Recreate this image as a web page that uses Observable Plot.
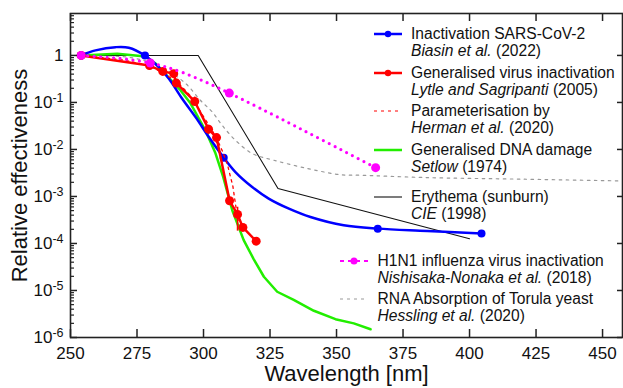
<!DOCTYPE html>
<html><head><meta charset="utf-8">
<script src="https://cdn.jsdelivr.net/npm/d3@7"></script>
<script src="https://cdn.jsdelivr.net/npm/@observablehq/plot@0.6"></script>
<style>
body{margin:0;background:#fff;}
#wrap{position:relative;width:623px;height:388px;font-family:"Liberation Sans",Arial,sans-serif;overflow:hidden;}
.lg{position:absolute;font-size:15.6px;line-height:18px;white-space:nowrap;color:#111;}
.sw{position:absolute;overflow:visible;}
</style></head><body><div id="wrap"></div>
<script>
// ---- tick values ----
const xTicks = [250, 275, 300, 325, 350, 375, 400, 425, 450];
const yMajor = [1e-6, 1e-5, 1e-4, 1e-3, 1e-2, 1e-1, 1];
const yLabels = ["10^-6", "10^-5", "10^-4", "10^-3", "10^-2", "10^-1", "1"];

// ---- series ----
const biasinWl = [254, 278, 307.6, 365.5, 404.5];
const biasinVal = [1, 1, 0.0067, 2.07e-4, 1.63e-4];
const biasinCurveWl = [253.8, 259.4, 266.9, 271.9, 277.9, 283.2, 287, 292, 297, 302, 307.6, 312, 318.3, 324.5, 332.1, 340.2, 352.7, 365.5, 384.1, 404.5];
const biasinCurveVal = [1, 1.28, 1.5, 1.46, 1, 0.564, 0.32, 0.12, 0.0489, 0.0184, 0.0067, 0.00331, 0.00159, 9.0e-4, 5.5e-4, 3.66e-4, 2.44e-4, 2.07e-4, 1.85e-4, 1.63e-4];

const lytleWl = [254, 279.7, 284.7, 288.8, 289.8, 296.7, 301.9, 304.9, 309.8, 312.8, 314.8, 319.8];
const lytleVal = [1, 0.61, 0.457, 0.41, 0.258, 0.105, 0.027, 0.0179, 8.1e-4, 4.15e-4, 2.2e-4, 1.12e-4];
const lytleErrWl = [279.7, 296.7, 301.9, 304.9, 312.8];
const lytleErrLo = [0.48, 0.087, 0.021, 0.0133, 1.83e-4];
const lytleErrHi = [0.78, 0.13, 0.0327, 0.02, 5.9e-4];

const hermanWl = [254, 270, 280, 290, 295, 300, 303, 305, 307, 309, 310, 311, 312, 313];
const hermanVal = [1, 0.8, 0.6, 0.28, 0.14, 0.05, 0.027, 0.017, 0.0095, 0.0048, 0.0028, 0.0017, 0.0007, 0.0003];

const setlowWl = [254, 267.6, 278.2, 282, 291.4, 295.1, 300.7, 304.5, 307.4, 310.8, 315.1, 318.9, 322.7, 327.7, 333.9, 341.5, 349.6, 356.5, 362.8];
const setlowVal = [1, 1.09, 0.95, 0.67, 0.18, 0.096, 0.0256, 0.0083, 0.0026, 5.1e-4, 1.18e-4, 4.6e-5, 1.96e-5, 9.4e-6, 6.3e-6, 3.7e-6, 2.45e-6, 2.0e-6, 1.5e-6];

const cieWl = [254, 298, 328, 400];
const cieVal = [1, 1, 0.00148, 1.26e-4];

const nishiWl = [254, 280, 309.7, 364.7];
const nishiVal = [1, 0.69, 0.158, 0.0041];

const hesslingWl = [254, 272.6, 283.8, 293.2, 298.9, 303.3, 307, 312, 318.3, 326.4, 339, 351.5, 359, 382.8, 420.4, 456.8];
const hesslingVal = [1, 0.9, 0.58, 0.255, 0.11, 0.0625, 0.0327, 0.0157, 0.0082, 0.0059, 0.00395, 0.0029, 0.00283, 0.00253, 0.00233, 0.00214];

// ---- legend text ----
const legendTitles = ["Inactivation SARS-CoV-2", "Generalised virus inactivation", "Parameterisation by", "Generalised DNA damage", "Erythema (sunburn)", "H1N1 influenza virus inactivation", "RNA Absorption of Torula yeast"];
const legendAuthors = ["Biasin et al.", "Lytle and Sagripanti", "Herman et al.", "Setlow", "CIE", "Nishisaka-Nonaka et al.", "Hessling et al."];
const legendYears = ["(2022)", "(2005)", "(2020)", "(1974)", "(1998)", "(2018)", "(2020)"];

// ---- build tables ----
const zip = (xs, ys) => xs.map((x, i) => ({x, y: ys[i]}));
const biasin = zip(biasinWl, biasinVal);
const biasinCurve = zip(biasinCurveWl, biasinCurveVal);
const lytle = zip(lytleWl, lytleVal);
const lytleErr = lytleErrWl.map((x, i) => ({x, lo: lytleErrLo[i], hi: lytleErrHi[i]}));
const herman = zip(hermanWl, hermanVal);
const setlow = zip(setlowWl, setlowVal);
const cie = zip(cieWl, cieVal);
const nishi = zip(nishiWl, nishiVal);
const hessling = zip(hesslingWl, hesslingVal);

const yMinor = [];
for (let e = -6; e <= 0; e++) for (let m = 2; m <= 9; m++) { const v = m * Math.pow(10, e); if (v < 7.8) yMinor.push(v); }

const W = 623, H = 388, mL = 70, mR = 1, mT = 13, mB = 51;
const iw = W - mL - mR, ih = H - mT - mB;
const axisCol = "#222";
const BLUE = "#0000ff", RED = "#ff0000", GREEN = "#22ee00", MAG = "#ff00ff", GRAY = "#999999";

const plot = Plot.plot({
  width: W, height: H,
  marginLeft: mL, marginRight: mR, marginTop: mT, marginBottom: mB,
  style: {fontFamily: "'Liberation Sans', Arial, sans-serif", background: "white", color: "#111"},
  x: {domain: [250, 457.5]},
  y: {type: "log", domain: [1e-6, 7.8]},
  marks: [
    Plot.line(hessling, {x: "x", y: "y", stroke: GRAY, strokeWidth: 1.2, strokeDasharray: "2.5 4.5", curve: "catmull-rom"}),
    Plot.line(cie, {x: "x", y: "y", stroke: "#111", strokeWidth: 1.1}),
    Plot.line(setlow, {x: "x", y: "y", stroke: GREEN, strokeWidth: 2.5}),
    Plot.line(biasinCurve, {x: "x", y: "y", stroke: BLUE, strokeWidth: 2.5, curve: "catmull-rom"}),
    Plot.dot(biasin, {x: "x", y: "y", fill: BLUE, r: 4}),
    Plot.line(herman, {x: "x", y: "y", stroke: RED, strokeWidth: 1.3, strokeDasharray: "2.5 4"}),
    Plot.ruleX(lytleErr, {x: "x", y1: "lo", y2: "hi", stroke: RED, strokeWidth: 1.6}),
    Plot.line(lytle, {x: "x", y: "y", stroke: RED, strokeWidth: 2.5}),
    Plot.dot(lytle, {x: "x", y: "y", fill: RED, r: 4.5}),
    Plot.line(nishi, {x: "x", y: "y", stroke: MAG, strokeWidth: 3.2, strokeDasharray: "0 6.5", strokeLinecap: "round", curve: "natural"}),
    Plot.dot(nishi, {x: "x", y: "y", fill: MAG, r: 4.5}),
    // ticks (inward)
    Plot.tickX(xTicks, {x: d => d, stroke: axisCol, strokeWidth: 1.5, insetTop: ih - 8}),
    Plot.tickX(xTicks, {x: d => d, stroke: axisCol, strokeWidth: 1.5, insetBottom: ih - 8}),
    Plot.tickY(yMajor, {y: d => d, stroke: axisCol, strokeWidth: 1.5, insetRight: iw - 7}),
    Plot.tickY(yMinor, {y: d => d, stroke: axisCol, strokeWidth: 1.2, insetRight: iw - 4}),
    Plot.tickY(yMajor, {y: d => d, stroke: axisCol, strokeWidth: 1.5, insetLeft: iw - 5}),
    Plot.frame({stroke: axisCol, strokeWidth: 1.6}),
    Plot.axisX({ticks: xTicks, tickSize: 0, tickPadding: 9, fontSize: 17, label: null, tickFormat: d => String(d)}),
    Plot.axisY({ticks: yMajor, tickSize: 0, tickPadding: 7, fontSize: 17, label: null, tickFormat: d => yLabels[yMajor.indexOf(d)]}),
    Plot.text(["Wavelength [nm]"], {frameAnchor: "bottom", dy: 36.5, text: d => d, fontSize: 22, lineAnchor: "middle", textAnchor: "middle", fill: "#111"}),
    Plot.text(["Relative effectiveness"], {frameAnchor: "left", dx: -50.5, rotate: -90, text: d => d, fontSize: 22, lineAnchor: "middle", textAnchor: "middle", fill: "#111"})
  ]
});

// superscript exponents in y tick labels
plot.querySelectorAll('g[aria-label="y-axis tick label"] text').forEach(t => {
  const s = t.textContent;
  if (s.includes("^")) {
    const [b, e] = s.split("^");
    while (t.firstChild) t.removeChild(t.firstChild);
    const ns = "http://www.w3.org/2000/svg";
    const t1 = document.createElementNS(ns, "tspan"); t1.textContent = b;
    const t2 = document.createElementNS(ns, "tspan"); t2.textContent = e;
    t2.setAttribute("dy", "-0.45em"); t2.setAttribute("font-size", "12.5px");
    t.appendChild(t1); t.appendChild(t2);
  }
});

const wrap = document.getElementById("wrap");
wrap.appendChild(plot);

// ---- legend (layout) ----
const legendStyles = [
  {stroke: BLUE, w: 2.5, dot: 3.2},
  {stroke: RED, w: 2.5, dot: 3.2},
  {stroke: RED, w: 1.2, dash: "3 4"},
  {stroke: GREEN, w: 2.5},
  {stroke: "#111", w: 1.1},
  {stroke: MAG, w: 2.2, dash: "4 4", dot: 3.5},
  {stroke: GRAY, w: 1.2, dash: "3 4"}
];
const rowY = [34, 73, 111, 150, 197, 261, 299];
const textX = [411, 411, 411, 411, 411, 377.5, 377.5];
const swX = [374, 374, 374, 374, 374, 340, 340];
const swW = 28;
legendTitles.forEach((title, i) => {
  const st = legendStyles[i];
  const svgNS = "http://www.w3.org/2000/svg";
  const sv = document.createElementNS(svgNS, "svg");
  sv.setAttribute("class", "sw");
  sv.setAttribute("width", swW); sv.setAttribute("height", 10);
  sv.style.left = swX[i] + "px"; sv.style.top = (rowY[i] - 5) + "px";
  const ln = document.createElementNS(svgNS, "line");
  ln.setAttribute("x1", 0); ln.setAttribute("x2", swW); ln.setAttribute("y1", 5); ln.setAttribute("y2", 5);
  ln.setAttribute("stroke", st.stroke); ln.setAttribute("stroke-width", st.w);
  if (st.dash) ln.setAttribute("stroke-dasharray", st.dash);
  sv.appendChild(ln);
  if (st.dot) {
    const c = document.createElementNS(svgNS, "circle");
    c.setAttribute("cx", swW / 2); c.setAttribute("cy", 5); c.setAttribute("r", st.dot); c.setAttribute("fill", st.stroke);
    sv.appendChild(c);
  }
  wrap.appendChild(sv);
  const d1 = document.createElement("div");
  d1.className = "lg"; d1.style.left = textX[i] + "px"; d1.style.top = (rowY[i] - 9) + "px";
  d1.textContent = title;
  wrap.appendChild(d1);
  const d2 = document.createElement("div");
  d2.className = "lg"; d2.style.left = textX[i] + "px"; d2.style.top = (rowY[i] + 16.5 - 9) + "px";
  const it = document.createElement("i"); it.textContent = legendAuthors[i];
  d2.appendChild(it); d2.appendChild(document.createTextNode(" " + legendYears[i]));
  wrap.appendChild(d2);
});
</script>
</body></html>
